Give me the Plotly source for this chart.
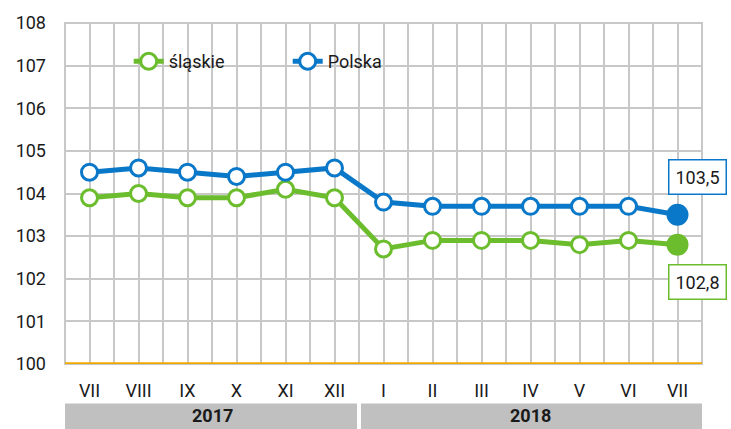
import plotly.graph_objects as go

months = ["VII", "VIII", "IX", "X", "XI", "XII", "I", "II", "III", "IV", "V", "VI", "VII"]
years = ["2017", "2018"]
year_spans = [(0, 5), (6, 12)]
slaskie = [103.9, 104.0, 103.9, 103.9, 104.1, 103.9, 102.7, 102.9, 102.9, 102.9, 102.8, 102.9, 102.8]
polska = [104.5, 104.6, 104.5, 104.4, 104.5, 104.6, 103.8, 103.7, 103.7, 103.7, 103.7, 103.7, 103.5]

GREEN = "#6cbd2d"
BLUE = "#0a78c8"
FONT = "Roboto"
TXT = "#1a1a1a"

x = list(range(len(months)))
n = len(months)

fig = go.Figure()

def add_series(name, vals, color):
    sizes = [16] * (n - 1) + [19]
    fills = ["white"] * (n - 1) + [color]
    fig.add_trace(go.Scatter(
        x=x, y=vals, name=name, mode="lines+markers",
        line=dict(color=color, width=5),
        marker=dict(size=sizes, color=fills, opacity=1, line=dict(color=color, width=3)),
        cliponaxis=False,
    ))

add_series("śląskie", slaskie, GREEN)
add_series("Polska", polska, BLUE)

tickvals = [i * 0.5 - 0.5 for i in range(2 * n + 1)]
ticktext = []
for v in tickvals:
    if abs(v - round(v)) < 1e-9 and 0 <= round(v) < n:
        ticktext.append(months[int(round(v))])
    else:
        ticktext.append("")

fig.update_xaxes(
    range=[-0.5, n - 0.5], tickmode="array", tickvals=tickvals, ticktext=ticktext,
    showgrid=True, gridcolor="#c8c8c8", gridwidth=2, zeroline=False,
    showline=False, ticks="", ticklabelstandoff=14,
    tickfont=dict(family=FONT, size=18, color=TXT),
)
fig.update_yaxes(
    range=[100, 108], dtick=1, showgrid=True, gridcolor="#c8c8c8", gridwidth=2,
    zeroline=False, showline=False, ticks="", ticklabelstandoff=18,
    tickfont=dict(family=FONT, size=18, color=TXT),
)

# plot border
fig.add_shape(type="rect", xref="paper", yref="paper", x0=0, x1=1, y0=0, y1=1,
              line=dict(color="#c8c8c8", width=2), layer="below")
# white box behind legend (above grid, below traces)
fig.add_shape(type="rect", xref="paper", yref="paper", x0=0.055, x1=0.584, y0=0.818, y1=0.951,
              fillcolor="white", line=dict(width=0), layer="between")
# baseline at 100
fig.add_shape(type="line", xref="paper", yref="y", x0=0, x1=1, y0=100, y1=100,
              line=dict(color="#f0a800", width=3.5))

# year bands
for yr, (a, b) in zip(years, year_spans):
    fig.add_shape(type="rect", xref="x", yref="paper",
                  x0=a - 0.5 + (0.04 if a > 0 else 0),
                  x1=b + 0.5 - (0.04 if b < n - 1 else 0),
                  y0=-0.116, y1=-0.2, fillcolor="#c0c0c0", line=dict(width=0), layer="below")
    fig.add_annotation(x=(a + b) / 2, y=-0.152, xref="x", yref="paper", text="<b>" + yr + "</b>",
                       showarrow=False, yanchor="middle",
                       font=dict(family=FONT, size=18, color=TXT))

def fmt(v):
    return f"{v:.1f}".replace(".", ",")

fig.add_annotation(x=n - 1, y=polska[-1], text=fmt(polska[-1]), showarrow=False,
                   xanchor="left", yanchor="middle", xshift=-10, yshift=38,
                   bordercolor=BLUE, borderwidth=1.5, borderpad=6, bgcolor="white",
                   font=dict(family=FONT, size=18, color=TXT))
fig.add_annotation(x=n - 1, y=slaskie[-1], text=fmt(slaskie[-1]), showarrow=False,
                   xanchor="left", yanchor="middle", xshift=-10, yshift=-37,
                   bordercolor=GREEN, borderwidth=1.5, borderpad=6, bgcolor="white",
                   font=dict(family=FONT, size=18, color=TXT))

fig.update_layout(
    width=731, height=429,
    margin=dict(l=65, r=29, t=18, b=65),
    paper_bgcolor="white", plot_bgcolor="white",
    font=dict(family=FONT, size=18, color=TXT),
    legend=dict(orientation="h", x=0.1, y=0.887, xanchor="left", yanchor="middle",
                bgcolor="rgba(0,0,0,0)", font=dict(family=FONT, size=18, color=TXT),
                entrywidth=114, borderwidth=0),
    showlegend=True,
)

fig.write_html("out.html", config={"displayModeBar": False},
               post_script="document.body.style.margin='0';document.body.style.padding='0';")
